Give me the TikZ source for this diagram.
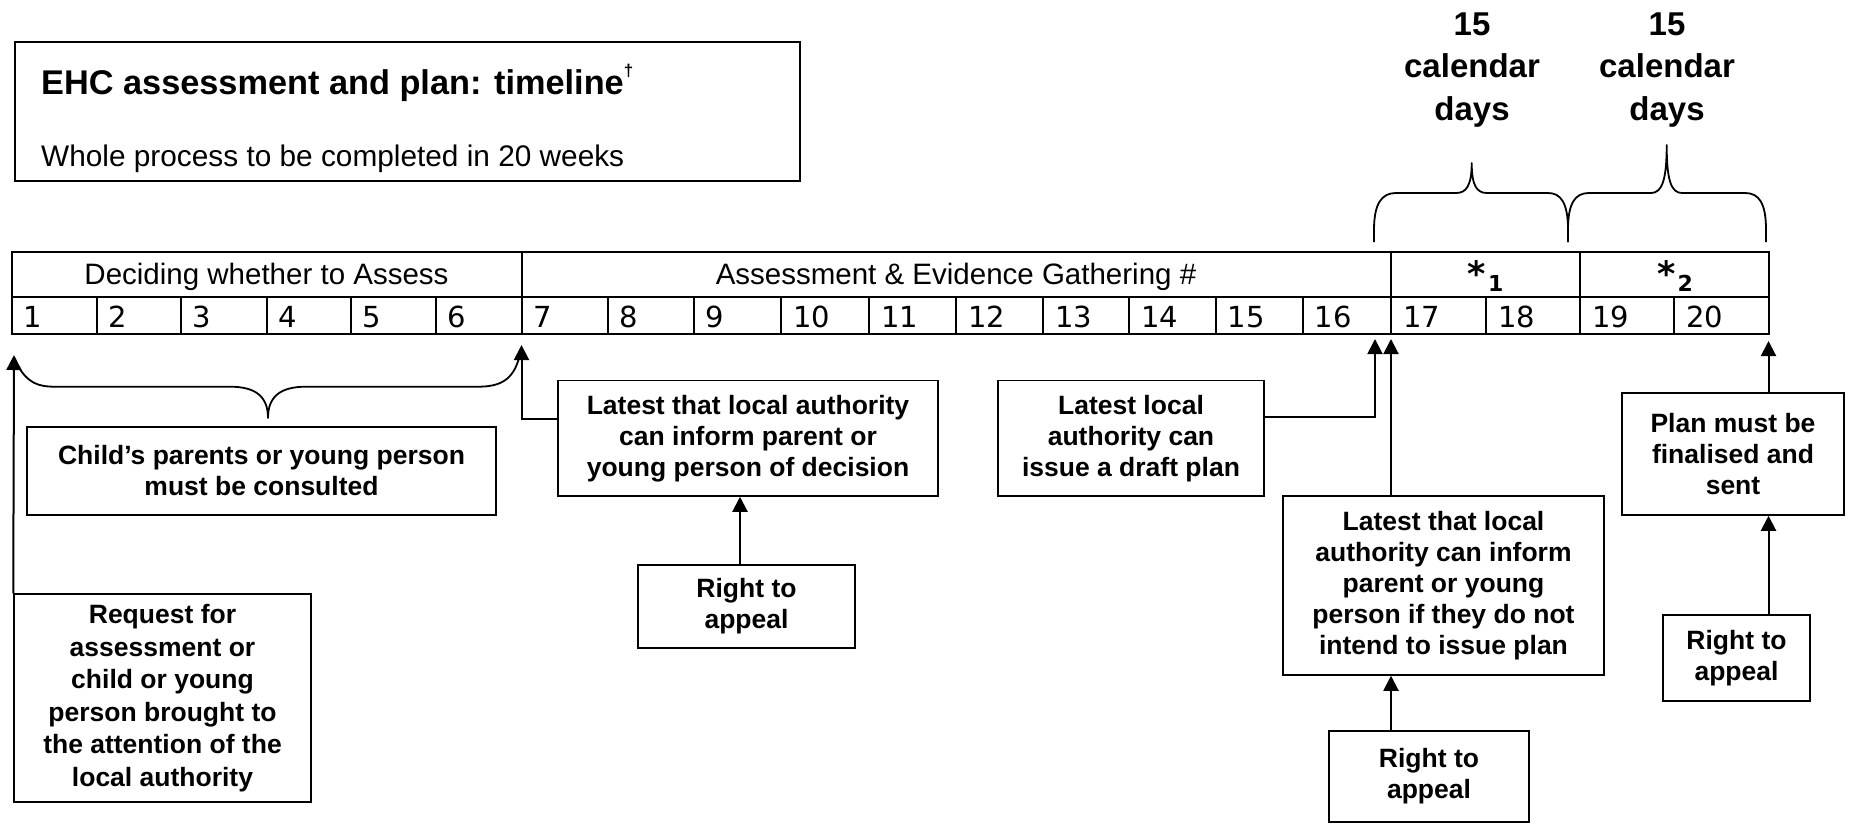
\documentclass[tikz,border=0pt]{standalone}
\usepackage{fontspec}
\setmainfont{Liberation Sans}
\newfontfamily\verd{DejaVu Sans}
\usetikzlibrary{arrows.meta,calc}
\newcommand\bxfont{\fontsize{26.5}{31}\selectfont\bfseries}
\begin{document}
\begin{tikzpicture}[x=1pt,y=-1pt,
  box/.style={draw, line width=1.5pt, inner sep=2pt, align=center, font=\bxfont},
  arr/.style={line width=2pt, -{Triangle[width=15pt,length=15pt]}},
  gridline/.style={line width=2pt},
  bracepath/.style={line width=1.8pt, line join=round},
  hdtext/.style={anchor=base, inner sep=0pt, font=\fontsize{29.5}{34}\selectfont},
  startext/.style={anchor=base, inner sep=0pt, font=\verd\bfseries\fontsize{35}{38}\selectfont},
  wknum/.style={anchor=base west, inner sep=0pt, font=\verd\fontsize{29}{32}\selectfont},
  caltext/.style={align=center, inner sep=0pt, font=\fontsize{33}{42.5}\selectfont\bfseries}
]
\useasboundingbox (0,0) rectangle (1850,825);

% title box
\node[draw, line width=2.2pt, minimum width=785pt, minimum height=139pt, inner sep=0pt] (titlebox) at (407.5,111.5) {};
\node[anchor=base west, inner sep=0pt, font=\fontsize{34.3}{40}\selectfont\bfseries] (ttl) at (41,94)
  {EHC assessment and plan: timeline\raisebox{0.5em}{\fontsize{17}{17}\selectfont †}};
\node[anchor=base west, inner sep=0pt, font=\fontsize{29.8}{36}\selectfont] (sub) at (41,166)
  {Whole process to be completed in 20 weeks};

% calendar labels
\node[caltext] (cal1) at (1472,70) {15\\calendar\\days};
\node[caltext] (cal2) at (1667,70) {15\\calendar\\days};

% top braces
\draw[bracepath] (1374,242) -- (1374,230) .. controls (1374,203) and (1382,193) .. (1396,193)
  -- (1456,193) .. controls (1466,193) and (1471.7,186) .. (1471.7,163)
  .. controls (1471.7,186) and (1477,193) .. (1487,193)
  -- (1548,193) .. controls (1561,193) and (1568,203) .. (1568,230) -- (1568,242);
\draw[bracepath] (1568,242) -- (1568,230) .. controls (1568,203) and (1575,193) .. (1589,193)
  -- (1651,193) .. controls (1662,193) and (1666.7,180) .. (1666.7,145)
  .. controls (1666.7,180) and (1671,193) .. (1682,193)
  -- (1745,193) .. controls (1759,193) and (1766,203) .. (1766,230) -- (1766,242);

% table grid
\draw[gridline] (11.5,251.5) rectangle (1769,333.5);
\draw[gridline] (11.5,296.5) -- (1769,296.5);
\foreach \xx in {521.5,1391,1580} \draw[gridline] (\xx,251.5) -- (\xx,333.5);
\foreach \xx in {96.5,180.5,266.5,350.5,435.5,607.5,693.5,781,869,956,1043,1129,1215.5,1302.5,1486,1674}
  \draw[gridline] (\xx,296.5) -- (\xx,333.5);

% header texts
\node[hdtext] (hd1) at (266.5,284) {Deciding whether to Assess};
\node[hdtext] (hd2) at (956,284) {Assessment \& Evidence Gathering \#};
\node[startext] (hd3) at (1485.5,286)
  {*\kern2pt\raisebox{-5pt}{\fontsize{22}{22}\selectfont 1}};
\node[startext] (hd4) at (1675,286)
  {*\kern2pt\raisebox{-5pt}{\fontsize{22}{22}\selectfont 2}};

% week numbers
\foreach \xx/\nn in {11.5/1,96.5/2,180.5/3,266.5/4,350.5/5,435.5/6,521.5/7,607.5/8,693.5/9,781/10,
  869/11,956/12,1043/13,1129/14,1215.5/15,1302.5/16,1391/17,1486/18,1580/19,1674/20}
  \node[wknum] (w\nn) at (\xx+12,327) {\nn};

% lower brace
\draw[bracepath] (18,366) .. controls (28,383) and (38,386.7) .. (55,386.7)
  -- (230,386.7) .. controls (255,386.7) and (268,396) .. (268,418)
  .. controls (268,396) and (281,386.7) .. (306,386.7)
  -- (478,386.7) .. controls (500,386.7) and (513,380) .. (519,358);

% boxes
\node[box, minimum width=297pt, minimum height=208pt, font=\fontsize{26.5}{32.5}\selectfont\bfseries] (req) at (162.5,698)
  {Request for\\assessment or\\child or young\\person brought to\\the attention of the\\local authority};
\node[box, minimum width=469pt, minimum height=88pt] (cons) at (261.5,471)
  {Child’s parents or young person\\must be consulted};
\node[box, minimum width=380pt, minimum height=115.5pt] (lat1) at (748,438.25)
  {Latest that local authority\\can inform parent or\\young person of decision};
\node[box, minimum width=217pt, minimum height=83pt] (rta1) at (746.5,606.5)
  {Right to\\appeal};
\node[box, minimum width=266pt, minimum height=115.5pt] (draft) at (1131,438.25)
  {Latest local\\authority can\\issue a draft plan};
\node[box, minimum width=321pt, minimum height=179pt] (lat2) at (1443.5,585.5)
  {Latest that local\\authority can inform\\parent or young\\person if they do not\\intend to issue plan};
\node[box, minimum width=200pt, minimum height=91pt] (rta2) at (1429,776.5)
  {Right to\\appeal};
\node[box, minimum width=222pt, minimum height=122pt] (plan) at (1733,454)
  {Plan must be\\finalised and\\sent};
\node[box, minimum width=147pt, minimum height=86pt] (rta3) at (1736.5,658)
  {Right to\\appeal};

% arrow tips
\coordinate (t1) at (14,355);
\coordinate (t7) at (521.5,345);
\coordinate (t16) at (1375,339);
\coordinate (t17) at (1391,339);
\coordinate (t20) at (1768.5,341);
\coordinate (a1) at (740,600);

% connectors
\draw[arr] (req.north west) -- (t1);
\draw[arr] ([yshift=19pt]lat1.west) -| (t7);
\draw[arr] (rta1.north -| a1) -- (lat1.south -| a1);
\draw[arr] ([yshift=21pt]draft.east) -| (t16);
\draw[arr] (lat2.north -| t17) -- (t17);
\draw[arr] (rta2.north -| t17) -- (lat2.south -| t17);
\draw[arr] (plan.north -| t20) -- (t20);
\draw[arr] (rta3.north -| t20) -- (plan.south -| t20);
\end{tikzpicture}
\end{document}
